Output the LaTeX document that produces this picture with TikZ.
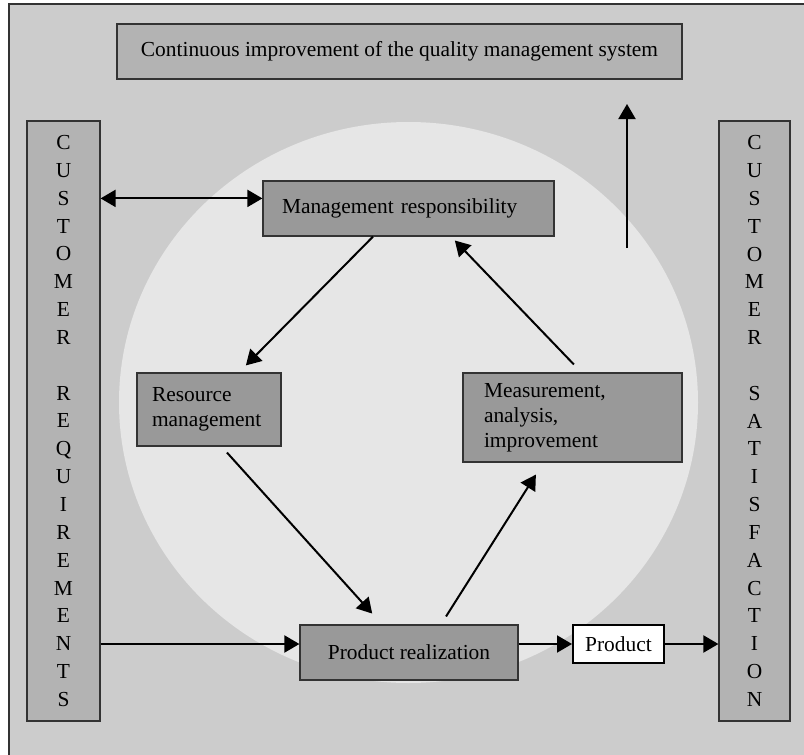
\documentclass[tikz,border=0pt]{standalone}
\usepackage{fontspec}
\setmainfont{Liberation Serif}
\usetikzlibrary{arrows.meta}
\definecolor{bggray}{HTML}{CCCCCC}
\definecolor{ringgray}{HTML}{E6E6E6}
\definecolor{sidegray}{HTML}{B3B3B3}
\definecolor{boxgray}{HTML}{999999}
\definecolor{edgegray}{HTML}{333333}

\begin{document}
\begin{tikzpicture}[x=0.5pt,y=-0.5pt,
		every node/.style={font=\fontsize{10.7}{12.4}\selectfont},
		lightbox/.style={draw=edgegray,line width=0.6pt,fill=sidegray,inner sep=0pt},
		darkbox/.style={draw=edgegray,line width=0.6pt,fill=boxgray,inner sep=0pt},
		column/.style={lightbox,align=center,font=\fontsize{10.7}{13.92}\selectfont},
		flow/.style={line width=1pt,-{Triangle[length=7.5pt,width=8.5pt]}}]
				\useasboundingbox (0,0) rectangle (804,755);
				\draw[fill=bggray,draw=edgegray,line width=0.8pt] (9,4) rectangle (830,780);
				\fill[ringgray] (408.5,402.5) ellipse [x radius=289.5,y radius=280.5];

				\node[lightbox,minimum width=282.5pt,minimum height=27.5pt] (cqi) at (399.5,51.5)
					{Continuous improvement of the quality management system};
				\node[column,minimum width=36.5pt,minimum height=300pt] (req) at (63.5,421)
					{C\\U\\S\\T\\O\\M\\E\\R\\\mbox{}\\R\\E\\Q\\U\\I\\R\\E\\M\\E\\N\\T\\S};
				\node[column,minimum width=35.5pt,minimum height=300pt] (sat) at (754.5,421)
					{C\\U\\S\\T\\O\\M\\E\\R\\\mbox{}\\S\\A\\T\\I\\S\\F\\A\\C\\T\\I\\O\\N};

				\node[darkbox,minimum width=145.5pt,minimum height=27.5pt,text width=126.5pt,align=left] (mr) at (408.5,208.5)
					{Management responsibility};
				\node[darkbox,minimum width=72pt,minimum height=36.5pt,text width=57pt,align=left] (rm) at (209,409.5)
					{Resource\\management};
				\node[darkbox,minimum width=109.5pt,minimum height=44.5pt,text width=88.5pt,align=left] (mai) at (572.5,417.5)
					{Measurement,\\analysis,\\improvement};
				\node[darkbox,minimum width=109pt,minimum height=27.5pt] (pr) at (409,652.5)
					{Product realization};
				\node[draw=black,line width=1pt,fill=white,inner sep=0pt,minimum width=45.5pt,minimum height=19pt] (prod) at (618.5,644)
					{Product};

				\coordinate (mrin) at ([yshift=-9pt]mr.north west);
				\coordinate (up0) at (627,248);
				\coordinate (up1) at (627,104);

				\draw[flow,{Triangle[length=7.5pt,width=8.5pt]}-{Triangle[length=7.5pt,width=8.5pt]}] (mrin -| req.east) -- (mrin);
				\draw[flow] (up0) -- (up1);
				\draw[flow,shorten >=4.9pt] ([xshift=-17.75pt]mr.south) -- ([xshift=15pt]rm.north);
				\draw[flow,shorten <=4pt,shorten >=7.3pt] ([xshift=6.3pt]rm.south) -- ([xshift=-13.5pt]pr.north);
				\draw[flow,shorten <=4.7pt,shorten >=7.1pt] ([xshift=16pt]pr.north) -- ([xshift=-14.5pt]mai.south);
				\draw[flow,shorten <=5.5pt,shorten >=2.7pt] ([xshift=4.5pt]mai.north) -- ([xshift=21.3pt]mr.south);
				\draw[flow] (req.east |- prod.west) -- (pr.west |- prod.west);
				\draw[flow] (pr.east |- prod.west) -- (prod.west);
				\draw[flow] (prod.east) -- (sat.west |- prod.east);

			\end{tikzpicture}
\end{document}
